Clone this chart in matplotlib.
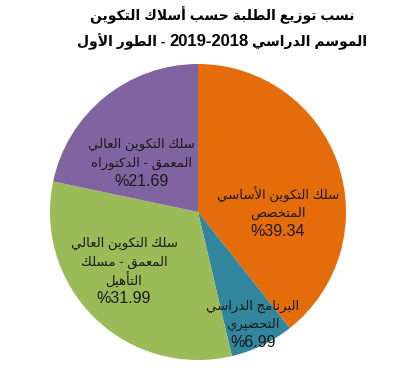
import matplotlib
matplotlib.use("Agg")
import matplotlib.pyplot as plt

# ---------------- data ----------------
title_lines = ["نسب توزيع الطلبة حسب أسلاك التكوين",
               "الموسم الدراسي 2019-2018 - الطور الأول"]
categories = ["سلك التكوين الأساسي\nالمتخصص",
              "البرنامج الدراسي\nالتحضيري",
              "سلك التكوين العالي\nالمعمق - مسلك\nالتأهيل",
              "سلك التكوين العالي\nالمعمق - الدكتوراه"]
values = [39.34, 6.99, 31.99, 21.69]
colors = ["#E46C0A", "#31859C", "#9BBB59", "#8064A2"]

# label block centres (in pie-radius units) -- layout only
label_pos = [(0.54, -0.01), (0.37, -0.76), (-0.50, -0.40), (-0.38, 0.33)]

# ------------- minimal Arabic shaping (presentation forms) -------------
# iso, fin, ini, med  (None for right-joining letters)
FORMS = {
    'ا': ('\uFE8D', '\uFE8E', None, None),
    'أ': ('\uFE83', '\uFE84', None, None),
    'ب': ('\uFE8F', '\uFE90', '\uFE91', '\uFE92'),
    'ة': ('\uFE93', '\uFE94', None, None),
    'ت': ('\uFE95', '\uFE96', '\uFE97', '\uFE98'),
    'ج': ('\uFE9D', '\uFE9E', '\uFE9F', '\uFEA0'),
    'ح': ('\uFEA1', '\uFEA2', '\uFEA3', '\uFEA4'),
    'خ': ('\uFEA5', '\uFEA6', '\uFEA7', '\uFEA8'),
    'د': ('\uFEA9', '\uFEAA', None, None),
    'ر': ('\uFEAD', '\uFEAE', None, None),
    'ز': ('\uFEAF', '\uFEB0', None, None),
    'س': ('\uFEB1', '\uFEB2', '\uFEB3', '\uFEB4'),
    'ص': ('\uFEB9', '\uFEBA', '\uFEBB', '\uFEBC'),
    'ض': ('\uFEBD', '\uFEBE', '\uFEBF', '\uFEC0'),
    'ط': ('\uFEC1', '\uFEC2', '\uFEC3', '\uFEC4'),
    'ع': ('\uFEC9', '\uFECA', '\uFECB', '\uFECC'),
    'ق': ('\uFED5', '\uFED6', '\uFED7', '\uFED8'),
    'ك': ('\uFED9', '\uFEDA', '\uFEDB', '\uFEDC'),
    'ل': ('\uFEDD', '\uFEDE', '\uFEDF', '\uFEE0'),
    'م': ('\uFEE1', '\uFEE2', '\uFEE3', '\uFEE4'),
    'ن': ('\uFEE5', '\uFEE6', '\uFEE7', '\uFEE8'),
    'ه': ('\uFEE9', '\uFEEA', '\uFEEB', '\uFEEC'),
    'و': ('\uFEED', '\uFEEE', None, None),
    'ي': ('\uFEF1', '\uFEF2', '\uFEF3', '\uFEF4'),
    'لا': ('\uFEFB', '\uFEFC', None, None),
    'لأ': ('\uFEF7', '\uFEF8', None, None),
}


def is_arabic(tok):
    return any('\u0600' <= ch <= '\u06FF' for ch in tok)


def is_number(tok):
    return any(ch.isdigit() for ch in tok)


def shape_word(w):
    chars = []
    i = 0
    while i < len(w):
        c = w[i]
        if c == 'ل' and i + 1 < len(w) and w[i + 1] in ('ا', 'أ'):
            chars.append(c + w[i + 1])
            i += 2
        else:
            chars.append(c)
            i += 1
    out = []
    for k, c in enumerate(chars):
        if c not in FORMS:
            out.append(c)
            continue
        prev = chars[k - 1] if k > 0 else None
        nxt = chars[k + 1] if k + 1 < len(chars) else None
        jp = prev in FORMS and FORMS[prev][2] is not None
        jn = nxt in FORMS and FORMS[c][2] is not None
        iso, fin, ini, med = FORMS[c]
        if jp and jn:
            g = med
        elif jp:
            g = fin
        elif jn:
            g = ini
        else:
            g = iso
        out.append(g)
    return ''.join(reversed(out))


def visual_tokens(line):
    toks = line.split(' ')
    return [shape_word(t) if is_arabic(t) else t for t in reversed(toks)]


def visual(line):
    return ' '.join(visual_tokens(line))


def visual_runs(line):
    """group visual tokens into runs of (text, is_number)"""
    runs = []
    for t in visual_tokens(line):
        num = is_number(t)
        if runs and runs[-1][1] == num:
            runs[-1] = (runs[-1][0] + ' ' + t, num)
        else:
            runs.append((t, num))
    return runs


FAM = ['Liberation Sans', 'DejaVu Sans']
W, H = 400, 373

# ---------------- figure ----------------
fig = plt.figure(figsize=(W / 100, H / 100), dpi=100)
fig.patch.set_facecolor('white')

R_px, cx, cy = 148, 198, 212
ax = fig.add_axes([(cx - R_px) / W, (H - cy - R_px) / H,
                   2 * R_px / W, 2 * R_px / H])
wedges, _ = ax.pie(values, colors=colors, startangle=90, counterclock=False,
                   radius=1.0, wedgeprops=dict(linewidth=0))
ax.set_xlim(-1, 1)
ax.set_ylim(-1, 1)
ax.set_axis_off()

pitch = 18.5 / R_px
for cat, v, (x, y) in zip(categories, values, label_pos):
    lines = [(visual(l), 9.5) for l in cat.split('\n')]
    lines.append(("%" + f"{v:.2f}", 11.5))
    n = len(lines)
    for i, (s, fs) in enumerate(lines):
        yy = y + ((n - 1) / 2 - i) * pitch
        ax.text(x, yy, s, ha='center', va='center', fontsize=fs,
                family=FAM, color='#1a1a1a')

# ---------------- title (mixed sizes: Arabic / digits) ----------------
renderer = fig.canvas.get_renderer()


def title_line(line, xc_px, y_px, ar_fs=10.0, num_fs=12.0):
    runs = visual_runs(line)
    texts, widths = [], []
    for t, num in runs:
        tx = fig.text(0, 1 - y_px / H, t, ha='left', va='center',
                      fontsize=num_fs if num else ar_fs, fontweight='bold',
                      family=FAM)
        texts.append(tx)
        widths.append(tx.get_window_extent(renderer).width)
    gap = 0.28 * ar_fs * 100 / 72
    total = sum(widths) + gap * (len(widths) - 1)
    xpos = xc_px - total / 2
    for tx, w in zip(texts, widths):
        tx.set_x(xpos / W)
        xpos += w + gap


title_line(title_lines[0], 222, 15)
title_line(title_lines[1], 222, 42)

fig.savefig("out.png", dpi=100, facecolor='white')
